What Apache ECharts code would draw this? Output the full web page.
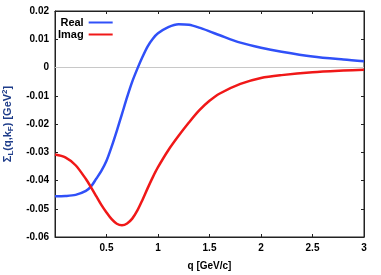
<!DOCTYPE html>
<html><head><meta charset="utf-8">
<script src="https://cdn.jsdelivr.net/npm/echarts@6/dist/echarts.min.js"></script>
<style>html,body{margin:0;padding:0;background:#fff}#c{width:381px;height:275px}</style>
</head><body><div id="c"></div>
<script>
const q = [0,0.1,0.2,0.3,0.35,0.4,0.45,0.5,0.55,0.6,0.65,0.7,0.75,0.8,0.85,0.9,0.95,1.0,1.1,1.2,1.3,1.4,1.5,1.6,1.8,2.0,2.2,2.5,2.8,3.0];
const realVals = [-0.0456,-0.0455,-0.0451,-0.0437,-0.0421,-0.0394,-0.0366,-0.033,-0.028,-0.0224,-0.0165,-0.0105,-0.0050,-0.0004,0.0038,0.0075,0.0102,0.0121,0.0143,0.0153,0.0151,0.0141,0.0128,0.0114,0.0088,0.0070,0.0056,0.0039,0.0028,0.0022];
const imagVals = [-0.0308,-0.0318,-0.0346,-0.0395,-0.0424,-0.0455,-0.0486,-0.0513,-0.0537,-0.0553,-0.0558,-0.0552,-0.0535,-0.0506,-0.0468,-0.0427,-0.0388,-0.0353,-0.0293,-0.0242,-0.0195,-0.0152,-0.0118,-0.0092,-0.0058,-0.0037,-0.0027,-0.0017,-0.0011,-0.0008];
const seriesNames = ['Real','Imag'];
const xTicks = {min:0,max:3,interval:0.5};
const yTicks = {min:-0.06,max:0.02,interval:0.01};

const font = 'Liberation Sans, Arial, sans-serif';
const chart = echarts.init(document.getElementById('c'));
const mkLine = () => ({show:true, onZero:false, lineStyle:{color:'#222', width:1}});
const mkTick = () => ({show:true, inside:true, length:3, lineStyle:{color:'#222'}});
const nameColor = '#1f3d8a';
chart.setOption({
  animation:false,
  grid:{left:55, right:17, top:11, bottom:38, containLabel:false, outerBoundsMode:'none',
        show:true, borderColor:'#222', borderWidth:1, backgroundColor:'transparent'},
  legend:{
    orient:'vertical', left:53, top:12, align:'right', itemGap:1,
    itemWidth:24, itemHeight:11,
    textStyle:{fontFamily:font, fontWeight:'bold', fontSize:11, color:'#000', padding:[0,0,0,0]},
    data:seriesNames.map(n=>({name:n, icon:'path://M0,4 L24,4 L24,6 L0,6 Z'}))
  },
  xAxis:[{
    type:'value', min:xTicks.min, max:xTicks.max, interval:xTicks.interval,
    axisLine:mkLine(), axisTick:mkTick(), splitLine:{show:false},
    axisLabel:{fontFamily:font, fontWeight:'bold', fontSize:10, color:'#000', margin:6,
      formatter:v=> v===0 ? '' : String(v)},
    name:'q [GeV/c]', nameLocation:'middle', nameGap:24,
    nameTextStyle:{fontFamily:font, fontWeight:'bold', fontSize:10, color:'#000'}
  },{
    type:'value', position:'top', min:xTicks.min, max:xTicks.max, interval:xTicks.interval,
    axisLine:mkLine(), axisTick:mkTick(), axisLabel:{show:false}, splitLine:{show:false}
  }],
  yAxis:[{
    type:'value', min:yTicks.min, max:yTicks.max, interval:yTicks.interval,
    axisLine:mkLine(), axisTick:mkTick(), splitLine:{show:false},
    axisLabel:{fontFamily:font, fontWeight:'bold', fontSize:10, color:'#000', margin:6,
      formatter:v=> String(Math.round(v*100)/100)},
    name:'{a|Σ}{s|L}{a|(q,k}{s|F}{a|) [GeV}{p|2}{a|]}', nameLocation:'middle', nameGap:40,
    nameTextStyle:{
      rich:{
        a:{fontFamily:font, fontWeight:'bold', fontSize:11, color:nameColor},
        s:{fontFamily:font, fontWeight:'bold', fontSize:8, color:nameColor, padding:[6,0,0,0]},
        p:{fontFamily:font, fontWeight:'bold', fontSize:8, color:nameColor, padding:[0,0,6,0]}
      }
    }
  },{
    type:'value', position:'right', min:yTicks.min, max:yTicks.max, interval:yTicks.interval,
    axisLine:mkLine(), axisTick:mkTick(), axisLabel:{show:false}, splitLine:{show:false}
  }],
  series:[
    {name:seriesNames[0], type:'line', smooth:0.3, showSymbol:false, color:'#3050f8',
     lineStyle:{width:2.5, color:'#3050f8'}, z:3,
     data:q.map((x,i)=>[x, realVals[i]]),
     markLine:{silent:true, symbol:'none', label:{show:false},
       lineStyle:{color:'#c8c8c8', width:1, type:'solid'}, data:[{yAxis:0}], z:1}},
    {name:seriesNames[1], type:'line', smooth:0.3, showSymbol:false, color:'#f01818',
     lineStyle:{width:2.5, color:'#f01818'}, z:3,
     data:q.map((x,i)=>[x, imagVals[i]])}
  ]
});
</script></body></html>
